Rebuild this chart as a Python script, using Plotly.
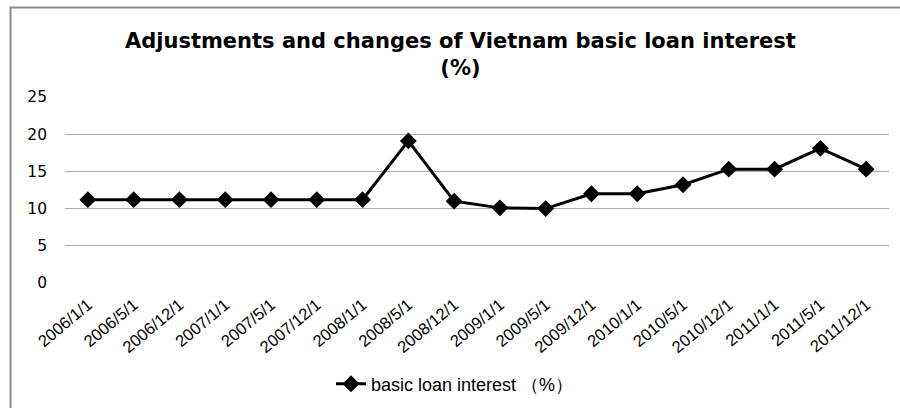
import plotly.graph_objects as go

dates = ["2006/1/1", "2006/5/1", "2006/12/1", "2007/1/1", "2007/5/1", "2007/12/1",
         "2008/1/1", "2008/5/1", "2008/12/1", "2009/1/1", "2009/5/1", "2009/12/1",
         "2010/1/1", "2010/5/1", "2010/12/1", "2011/1/1", "2011/5/1", "2011/12/1"]
rates = [11.2, 11.2, 11.2, 11.2, 11.2, 11.2, 11.2, 19.1, 11.0, 10.1, 10.0, 12.0,
         12.0, 13.2, 15.3, 15.3, 18.1, 15.3]
y_ticks = [0, 5, 10, 15, 20, 25]

L, R, T, B = 65, 11, 97, 125
W, H = 900, 408
pw, ph = W - L - R, H - T - B

def px(x):
    return (x - L) / pw

def py(y):
    return (H - B - y) / ph

fig = go.Figure()
fig.add_trace(go.Scatter(
    x=dates, y=rates, mode="lines+markers",
    name="basic loan interest （%）",
    line=dict(color="black", width=3),
    marker=dict(symbol="diamond", size=13, color="black"),
))

fig.add_annotation(text="<b>Adjustments and changes of Vietnam basic loan interest<br>(%)</b>",
                   xref="paper", yref="paper", x=px(460), y=py(54),
                   xanchor="center", yanchor="middle", showarrow=False,
                   font=dict(family="DejaVu Sans", size=21, color="black"))

fig.update_layout(
    width=W, height=H,
    margin=dict(l=L, r=R, t=T, b=B, autoexpand=False),
    paper_bgcolor="white", plot_bgcolor="white",
    xaxis=dict(
        type="category", tickangle=-40, showgrid=False, showline=False,
        ticks="", automargin=False, ticklabelstandoff=8,
        tickfont=dict(family="Liberation Sans", size=16.5, color="black"),
        range=[-0.5, len(dates) - 0.5],
    ),
    yaxis=dict(
        range=[0, 25], tickvals=y_ticks, showgrid=True, gridcolor="#ababab",
        gridwidth=1, zeroline=False, showline=False, ticks="", automargin=False,
        tickfont=dict(family="DejaVu Sans", size=15.5, color="black"),
        ticklabelstandoff=17,
    ),
    legend=dict(
        orientation="h", x=px(455), xanchor="center", y=py(384), yanchor="middle",
        font=dict(family="Liberation Sans", size=18, color="black"),
    ),
    showlegend=True,
    shapes=[dict(
        type="rect", xref="paper", yref="paper",
        x0=px(10.5), x1=px(910), y0=py(420), y1=py(7.5),
        line=dict(color="#8c8c8c", width=2), fillcolor="rgba(0,0,0,0)", layer="below",
    )],
)

fig.write_html("out.html", config={"displayModeBar": False},
               post_script="document.body.style.margin='0';")
